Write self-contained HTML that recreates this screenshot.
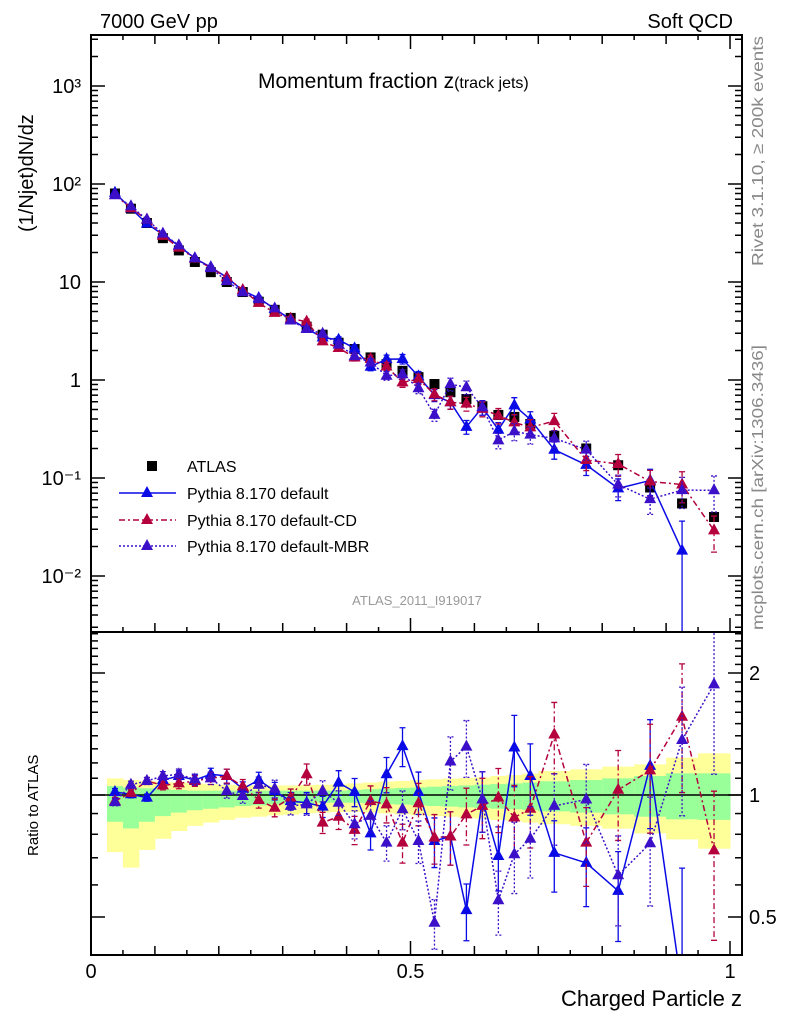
<!DOCTYPE html>
<html><head><meta charset="utf-8"><style>
html,body{margin:0;padding:0;background:#fff;width:786px;height:1024px;overflow:hidden;}
svg{display:block;font-family:"Liberation Sans",sans-serif;overflow:hidden;}
</style></head><body>
<svg id="chart" width="786" height="1024" viewBox="0 0 786 1024" xmlns="http://www.w3.org/2000/svg">
<defs>
<clipPath id="clipMain"><rect x="91" y="35" width="651" height="597"/></clipPath>
<clipPath id="clipRatio"><rect x="91" y="632" width="651" height="323"/></clipPath>
</defs>
<g id="bands" clip-path="url(#clipRatio)"></g>
<line x1="91" x2="742" y1="795" y2="795" stroke="#000" stroke-width="1.5"/>
<g id="marks"></g>
<g id="axes"></g>
<text x="100" y="28" font-size="20">7000 GeV pp</text>
<text x="733" y="28" font-size="20" text-anchor="end">Soft QCD</text>
<text x="258" y="88" font-size="21">Momentum fraction z<tspan font-size="16">(track jets)</tspan></text>
<text transform="translate(33,232) rotate(-90)" font-size="20">(1/Njet)dN/dz</text>
<text transform="translate(38,856) rotate(-90)" font-size="15">Ratio to ATLAS</text>
<text x="742" y="1006" font-size="22" text-anchor="end">Charged Particle z</text>
<text transform="translate(763,266) rotate(-90)" font-size="16" fill="#888" textLength="230" lengthAdjust="spacingAndGlyphs">Rivet 3.1.10, ≥ 200k events</text>
<text transform="translate(763,630) rotate(-90)" font-size="16" fill="#888" textLength="285" lengthAdjust="spacingAndGlyphs">mcplots.cern.ch [arXiv:1306.3436]</text>
<text x="417" y="605" font-size="13" fill="#999" text-anchor="middle">ATLAS_2011_I919017</text>
<g id="legend">
<rect x="147" y="461" width="10" height="10" fill="#000"/>
<text x="187" y="472" font-size="16">ATLAS</text>
<line x1="119" x2="176" y1="493" y2="493" stroke="#0a0ae6" stroke-width="1.5"/>
<polygon points="147,486 141,497 153,497" fill="#0a0ae6"/>
<text x="187" y="499" font-size="16">Pythia 8.170 default</text>
<line x1="119" x2="176" y1="520" y2="520" stroke="#b4003c" stroke-width="1.5" stroke-dasharray="6,3,2,3"/>
<polygon points="147,513 141,524 153,524" fill="#b4003c"/>
<text x="187" y="526" font-size="16">Pythia 8.170 default-CD</text>
<line x1="119" x2="176" y1="546" y2="546" stroke="#3c10c8" stroke-width="1.5" stroke-dasharray="2,2"/>
<polygon points="147,539 141,550 153,550" fill="#3c10c8"/>
<text x="187" y="552" font-size="16">Pythia 8.170 default-MBR</text>
</g>
</svg>
<script>
const binLo = [0.025,0.05,0.075,0.1,0.125,0.15,0.175,0.2,0.225,0.25,0.275,0.3,0.325,0.35,0.375,0.4,0.425,0.45,0.475,0.5,0.525,0.55,0.575,0.6,0.625,0.65,0.675,0.7,0.75,0.8,0.85,0.9,0.95];
const binHi = [0.05,0.075,0.1,0.125,0.15,0.175,0.2,0.225,0.25,0.275,0.3,0.325,0.35,0.375,0.4,0.425,0.45,0.475,0.5,0.525,0.55,0.575,0.6,0.625,0.65,0.675,0.7,0.75,0.8,0.85,0.9,0.95,1.0];
const atlas = [80,56,40,28,21,16,12.6,10,7.9,6.3,5.2,4.3,3.5,2.9,2.4,2.07,1.7,1.45,1.24,1.07,0.91,0.75,0.64,0.54,0.44,0.42,0.355,0.27,0.20,0.135,0.08,0.055,0.040];
const ratioDefault = [1.017,1.004,0.985,1.089,1.114,1.089,1.125,1.114,1.036,1.089,1.023,0.966,0.957,0.936,1.073,1.017,0.804,1.125,1.32,1.017,0.77,0.79,0.52,0.975,0.707,1.31,1.114,0.72,0.68,0.58,1.18,0.33,null];
const ratioCD = [0.966,1.013,1.083,1.056,1.068,1.083,1.10,1.114,1.05,0.972,0.93,0.985,1.125,0.855,0.884,0.82,0.966,0.948,0.763,0.954,0.785,0.79,0.896,0.94,0.985,0.88,0.925,1.41,0.763,1.03,1.15,1.56,0.73];
const ratioMBR = [0.96,1.06,1.083,1.114,1.125,1.093,1.10,1.023,0.994,1.06,1.036,0.94,0.948,1.023,0.957,0.847,0.888,0.763,0.922,0.77,0.484,1.21,1.316,0.975,0.55,0.714,0.78,0.94,0.975,0.634,0.76,1.367,1.875];
const relErr = [0.02,0.02,0.02,0.025,0.03,0.03,0.035,0.04,0.04,0.045,0.05,0.05,0.06,0.06,0.07,0.08,0.09,0.1,0.11,0.12,0.14,0.15,0.16,0.17,0.18,0.2,0.2,0.2,0.22,0.25,0.3,0.35,0.4];
const relErrDefault = [0.02,0.02,0.02,0.025,0.03,0.03,0.035,0.04,0.04,0.045,0.05,0.05,0.06,0.06,0.07,0.08,0.09,0.1,0.11,0.12,0.14,0.15,0.16,0.17,0.18,0.2,0.2,0.2,0.22,0.25,0.3,1.0,0.4];
const yellowUp = [1.099,1.089,1.083,1.077,1.073,1.068,1.064,1.060,1.058,1.056,1.056,1.056,1.058,1.06,1.062,1.068,1.073,1.079,1.083,1.089,1.093,1.097,1.101,1.105,1.114,1.12,1.129,1.146,1.157,1.175,1.19,1.236,1.267];
const yellowLo = [0.723,0.662,0.732,0.78,0.815,0.839,0.855,0.868,0.879,0.884,0.891,0.894,0.901,0.905,0.908,0.908,0.905,0.901,0.896,0.891,0.887,0.884,0.879,0.874,0.868,0.863,0.855,0.847,0.839,0.826,0.804,0.777,0.737];
const greenUp = [1.052,1.044,1.039,1.033,1.029,1.025,1.025,1.025,1.025,1.025,1.025,1.025,1.025,1.025,1.025,1.029,1.033,1.037,1.041,1.044,1.048,1.052,1.056,1.06,1.064,1.068,1.073,1.081,1.089,1.099,1.114,1.131,1.131];
const greenLo = [0.859,0.827,0.859,0.887,0.905,0.917,0.925,0.932,0.939,0.943,0.948,0.952,0.954,0.957,0.957,0.957,0.954,0.95,0.947,0.943,0.939,0.936,0.932,0.929,0.925,0.922,0.918,0.911,0.905,0.896,0.884,0.871,0.868];
const mainTicks = [3,2,1,0,-1,-2];
const mainTickLabels = ["10³","10²","10","1","10⁻¹","10⁻²"];
const ratioTicks = [0.5,1,2];
const ratioTickLabels = ["0.5","1","2"];
const xTicks = [0,0.5,1];
const xTickLabels = ["0","0.5","1"];

const NS = "http://www.w3.org/2000/svg";
const X = z => 91 + z*639;
const Y = v => 380 - 98*Math.log10(v);
const R = r => 795 - 122*Math.log2(r);
function mk(tag, attrs, parent){const e=document.createElementNS(NS,tag);for(const k in attrs)e.setAttribute(k,attrs[k]);parent.appendChild(e);return e;}
const bands=document.getElementById('bands'), marks=document.getElementById('marks'), axes=document.getElementById('axes');

for(let i=0;i<binLo.length;i++){
  const y1=mk('rect',{x:X(binLo[i]),y:R(yellowUp[i]),width:X(binHi[i])-X(binLo[i])+0.5,height:R(yellowLo[i])-R(yellowUp[i]),fill:'#ffff99'},bands);
  
  
  const g1=mk('rect',{x:X(binLo[i]),y:R(greenUp[i]),width:X(binHi[i])-X(binLo[i])+0.5,height:R(greenLo[i])-R(greenUp[i]),fill:'#99ff99'},bands);
  
  
}
const mid=i=>(binLo[i]+binHi[i])/2;
const series=[
 {name:'default',ratio:ratioDefault,err:relErrDefault,color:'#0a0ae6',dash:null},
 {name:'cd',ratio:ratioCD,err:relErr,color:'#b4003c',dash:'6,3,2,3'},
 {name:'mbr',ratio:ratioMBR,err:relErr,color:'#3c10c8',dash:'2,2'}];
const gMain=mk('g',{'clip-path':'url(#clipMain)'},marks);
const gRatio=mk('g',{'clip-path':'url(#clipRatio)'},marks);
atlas.forEach((v,i)=>{
  const s=mk('rect',{x:X(mid(i))-5,y:Y(v)-5,width:10,height:10,fill:'#000'},gMain);
  
  
});
function tri(g,x,y,c){return mk('polygon',{points:`${x},${y-7} ${x-6},${y+4} ${x+6},${y+4}`,fill:c},g);}
series.forEach(s=>{
  [[gMain,(i,r)=>Y(atlas[i]*r),632],[gRatio,(i,r)=>R(r),955]].forEach(([g,fy,ymax])=>{
    let pts=[];
    s.ratio.forEach((r,i)=>{ if(r!=null) pts.push(X(mid(i))+','+fy(i,r)); });
    const pl=mk('polyline',{points:pts.join(' '),fill:'none',stroke:s.color,'stroke-width':1.5},g);
    if(s.dash) pl.setAttribute('stroke-dasharray',s.dash);
    
    
    s.ratio.forEach((r,i)=>{
      if(r==null) return;
      const x=X(mid(i)), e=s.err[i];
      const up=fy(i,r*(1+e));
      const lo=Math.min(fy(i,Math.max(r*(1-e),1e-6)), ymax+5);
      const eb=mk('path',{d:`M${x},${up}V${lo}M${x-3},${up}h6M${x-3},${lo}h6`,stroke:s.color,'stroke-width':1.3,fill:'none'},g);
      if(s.dash) eb.setAttribute('stroke-dasharray',s.dash);
      
      
      const t=tri(g,x,fy(i,r),s.color);
      
      
    });
  });
});
[[35,597],[632,323]].forEach(([y,h])=>{
  const f=mk('rect',{x:91,y:y,width:651,height:h,fill:'none',stroke:'#000','stroke-width':2},axes);
  
  
});
for(let k=0;k<=20;k++){
  const z=k*0.05, x=X(z);
  const len = (k%10===0)?14:(k%2===0?9:5);
  mk('line',{x1:x,x2:x,y1:955,y2:955-len,stroke:'#000','stroke-width':1.5},axes);
  mk('line',{x1:x,x2:x,y1:632,y2:632-len,stroke:'#000','stroke-width':1.5},axes);
  mk('line',{x1:x,x2:x,y1:35,y2:35+len,stroke:'#000','stroke-width':1.5},axes);
}
xTicks.forEach((z,i)=>{
  const t=mk('text',{x:X(z),y:978,'font-size':20,'text-anchor':'middle'},axes);
  t.textContent=xTickLabels[i];
  
  
});
for(let d=-3;d<=3;d++){
  for(let m=1;m<=9;m++){
    const v=m*Math.pow(10,d), y=Y(v);
    if(y<35||y>632) continue;
    const len=m===1?14:7;
    mk('line',{x1:91,x2:91+len,y1:y,y2:y,stroke:'#000','stroke-width':1.5},axes);
    mk('line',{x1:742,x2:742-len,y1:y,y2:y,stroke:'#000','stroke-width':1.5},axes);
  }
}
mainTicks.forEach((p,i)=>{
  const t=mk('text',{x:81,y:Y(Math.pow(10,p))+7,'font-size':20,'text-anchor':'end'},axes);
  t.textContent=mainTickLabels[i];
  
  
});
for(let k=4;k<=25;k++){
  const r=k/10, y=R(r);
  if(y<632||y>955) continue;
  const len=(k===5||k===10||k===20)?14:7;
  mk('line',{x1:91,x2:91+len,y1:y,y2:y,stroke:'#000','stroke-width':1.5},axes);
  mk('line',{x1:742,x2:742-len,y1:y,y2:y,stroke:'#000','stroke-width':1.5},axes);
}
ratioTicks.forEach((r,i)=>{
  const t=mk('text',{x:749,y:R(r)+7,'font-size':20},axes);
  t.textContent=ratioTickLabels[i];
  
  
});
</script>
</body></html>
